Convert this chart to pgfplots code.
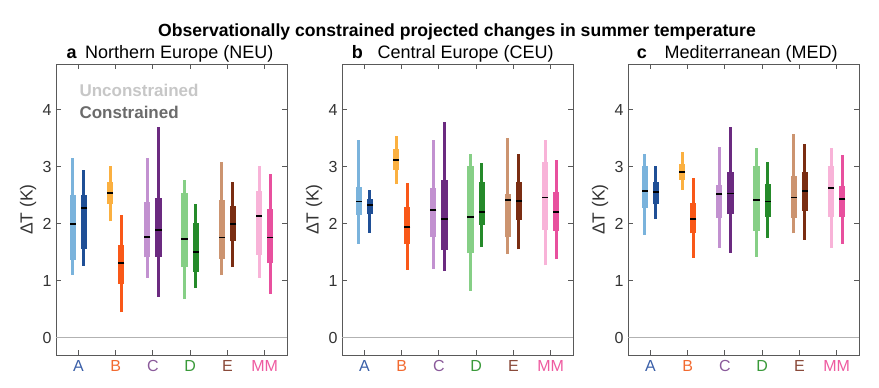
\documentclass[border=0pt]{standalone}
\usepackage{pgfplots}
\pgfplotsset{compat=1.18}
\usepackage{fontspec}
\setmainfont{Liberation Sans}

\definecolor{uA}{HTML}{7AB3DC}\definecolor{cA}{HTML}{1F4F96}
\definecolor{uB}{HTML}{FBB040}\definecolor{cB}{HTML}{F95818}
\definecolor{uC}{HTML}{C291D0}\definecolor{cC}{HTML}{6B2A80}
\definecolor{uD}{HTML}{86CF86}\definecolor{cD}{HTML}{258A2A}
\definecolor{uE}{HTML}{CC9470}\definecolor{cE}{HTML}{7A2D12}
\definecolor{uM}{HTML}{F8B3D8}\definecolor{cM}{HTML}{E8509E}
\definecolor{lA}{HTML}{3A5FA8}\definecolor{lB}{HTML}{F26A30}
\definecolor{lC}{HTML}{8A5A9A}\definecolor{lD}{HTML}{3A9A3A}
\definecolor{lE}{HTML}{8A4A3A}\definecolor{lM}{HTML}{EE5AA0}

% x, whisker top, box top, median, box bottom, whisker bottom, colour
\newcommand{\bx}[7]{%
  \addplot[#7, line width=3pt] coordinates {(#1,#6) (#1,#2)};
  \addplot[#7, line width=6.3pt] coordinates {(#1,#5) (#1,#3)};
  \addplot[black, only marks, mark=-, mark size=3.15pt, mark options={line width=1.8pt}] coordinates {(#1,#4)};
}

\pgfplotsset{
  panel/.style={
    scale only axis, width=231pt, height=291pt,
    xmin=0.4, xmax=6.6, ymin=-0.3, ymax=4.8,
    xtick={1,2,3,4,5,6},
    xticklabels={\textcolor{lA}{A},\textcolor{lB}{B},\textcolor{lC}{C},\textcolor{lD}{D},\textcolor{lE}{E},\textcolor{lM}{MM}},
    ytick={0,1,2,3,4},
    tick pos=both, tick align=inside, major tick length=5pt,
    axis line style={black!65, line width=0.8pt},
    tick style={black!65, line width=0.8pt},
    /pgf/number format/assume math mode=true,
    ticklabel style={font=\fontsize{16}{16}\selectfont, text=black!80},
    yticklabel style={xshift=-1pt},
    xticklabel style={yshift=-2pt},
    ylabel={ΔT (K)},
    ylabel style={at={(axis description cs:-0.121,0.5)}, anchor=center, font=\fontsize{17.5}{17.5}\selectfont, text=black!80},
    clip=false,
  }
}

\begin{document}
\begin{tikzpicture}[x=1pt,y=1pt]
\useasboundingbox (0,0) rectangle (879,388);

\node[anchor=base, font=\bfseries\fontsize{17.6}{19}\selectfont] at (457,351.3) {Observationally constrained projected changes in summer temperature};

\node[anchor=base west, font=\bfseries\fontsize{18}{19}\selectfont] at (63,329) {a};
\node[anchor=base west, font=\fontsize{18}{19}\selectfont] at (81.7,329) {Northern Europe (NEU)};
\node[anchor=base west, font=\bfseries\fontsize{18}{19}\selectfont] at (348.3,329) {b};
\node[anchor=base west, font=\fontsize{18}{19}\selectfont] at (374,329) {Central Europe (CEU)};
\node[anchor=base west, font=\bfseries\fontsize{18}{19}\selectfont] at (633.3,329) {c};
\node[anchor=base west, font=\fontsize{18}{19}\selectfont] at (661,329) {Mediterranean (MED)};

% Panel a: NEU
\begin{axis}[panel, at={(56pt,33pt)}, anchor=south west]
\addplot[black!30, line width=0.8pt] coordinates {(0.4,0) (6.6,0)};
\bx{0.85}{3.16}{2.51}{2.00}{1.37}{1.11}{uA}
\bx{1.15}{2.95}{2.51}{2.28}{1.56}{1.26}{cA}
\bx{1.85}{3.02}{2.73}{2.54}{2.35}{2.04}{uB}
\bx{2.15}{2.16}{1.63}{1.31}{0.95}{0.45}{cB}
\bx{2.85}{3.16}{2.38}{1.77}{1.41}{1.05}{uC}
\bx{3.15}{3.69}{2.45}{1.89}{1.42}{0.72}{cC}
\bx{3.85}{2.77}{2.54}{1.73}{1.24}{0.68}{uD}
\bx{4.15}{2.34}{2.01}{1.50}{1.16}{0.87}{cD}
\bx{4.85}{3.08}{2.42}{1.76}{1.39}{1.10}{uE}
\bx{5.15}{2.74}{2.31}{2.00}{1.69}{1.24}{cE}
\bx{5.85}{3.01}{2.57}{2.14}{1.45}{1.05}{uM}
\bx{6.15}{2.87}{2.25}{1.76}{1.31}{0.77}{cM}
\end{axis}

% Panel b: CEU
\begin{axis}[panel, at={(342pt,33pt)}, anchor=south west]
\addplot[black!30, line width=0.8pt] coordinates {(0.4,0) (6.6,0)};
\bx{0.85}{3.47}{2.64}{2.39}{2.16}{1.65}{uA}
\bx{1.15}{2.60}{2.43}{2.33}{2.17}{1.84}{cA}
\bx{1.85}{3.54}{3.31}{3.12}{2.94}{2.69}{uB}
\bx{2.15}{2.71}{2.29}{1.95}{1.65}{1.19}{cB}
\bx{2.85}{3.46}{2.62}{2.24}{1.77}{1.21}{uC}
\bx{3.15}{3.78}{2.76}{2.08}{1.54}{1.17}{cC}
\bx{3.85}{3.23}{3.02}{2.12}{1.48}{0.83}{uD}
\bx{4.15}{3.06}{2.73}{2.20}{1.98}{1.59}{cD}
\bx{4.85}{3.50}{2.52}{2.41}{1.76}{1.47}{uE}
\bx{5.15}{3.23}{2.73}{2.40}{2.07}{1.55}{cE}
\bx{5.85}{3.46}{3.09}{2.46}{1.89}{1.27}{uM}
\bx{6.15}{3.11}{2.55}{2.20}{1.87}{1.38}{cM}
\end{axis}

% Panel c: MED
\begin{axis}[panel, at={(628pt,33pt)}, anchor=south west]
\addplot[black!30, line width=0.8pt] coordinates {(0.4,0) (6.6,0)};
\bx{0.85}{3.22}{3.02}{2.57}{2.28}{1.81}{uA}
\bx{1.15}{3.02}{2.73}{2.55}{2.34}{2.08}{cA}
\bx{1.85}{3.26}{3.05}{2.91}{2.77}{2.60}{uB}
\bx{2.15}{2.80}{2.37}{2.08}{1.83}{1.40}{cB}
\bx{2.85}{3.34}{2.68}{2.52}{2.10}{1.58}{uC}
\bx{3.15}{3.69}{2.91}{2.53}{2.17}{1.49}{cC}
\bx{3.85}{3.32}{3.02}{2.41}{1.87}{1.42}{uD}
\bx{4.15}{3.08}{2.70}{2.39}{2.12}{1.75}{cD}
\bx{4.85}{3.58}{2.84}{2.46}{2.10}{1.83}{uE}
\bx{5.15}{3.39}{2.91}{2.58}{2.23}{1.72}{cE}
\bx{5.85}{3.32}{3.01}{2.62}{2.12}{1.58}{uM}
\bx{6.15}{3.21}{2.67}{2.43}{2.12}{1.65}{cM}
\end{axis}

\node[anchor=base west, font=\bfseries\fontsize{17}{18}\selectfont, text=black!22] at (76,291.3) {Unconstrained};
\node[anchor=base west, font=\bfseries\fontsize{17}{18}\selectfont, text=black!58] at (76,269.7) {Constrained};
\end{tikzpicture}
\end{document}
